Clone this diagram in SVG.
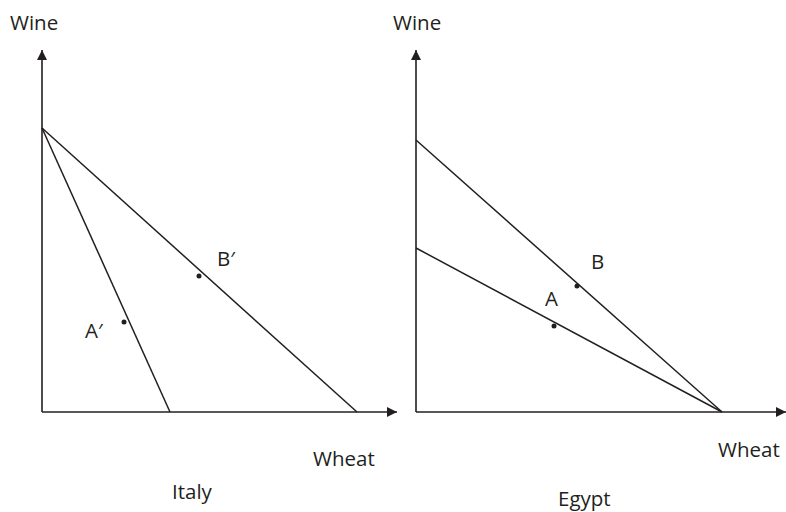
<svg xmlns="http://www.w3.org/2000/svg" width="786" height="512" viewBox="0 0 786 512">
<style>
.ax{stroke:#231f20;stroke-width:1.6;fill:none}
.ln{stroke:#231f20;stroke-width:1.5;fill:none}
.t{font-family:"Open Sans","Liberation Sans",sans-serif;font-size:20.5px;fill:#231f20}
.dot{fill:#231f20}
</style>
<defs>
<marker id="arr" markerWidth="10" markerHeight="10" refX="10" refY="5" orient="auto" markerUnits="userSpaceOnUse">
<path d="M0,0 L10,5 L0,10 Z" fill="#231f20"/>
</marker>
</defs>
<g id="connectors">
<path class="ax" d="M42,412 L42,50" marker-end="url(#arr)"/>
<path class="ax" d="M42,412 L397,412" marker-end="url(#arr)"/>
<path class="ln" d="M42,128 L170,412"/>
<path class="ln" d="M42,128 L357,412"/>
<path class="ax" d="M416,412 L416,50" marker-end="url(#arr)"/>
<path class="ax" d="M416,412 L786,412" marker-end="url(#arr)"/>
<path class="ln" d="M416,140 L722,412"/>
<path class="ln" d="M416,248 L722,412"/>
</g>
<g id="italy">
<text class="t" x="10" y="30">Wine</text>
<text class="t" x="313" y="466">Wheat</text>
<text class="t" x="172" y="499">Italy</text>
<circle class="dot" cx="199" cy="276" r="2.5"/>
<text class="t" x="217" y="266">B′</text>
<circle class="dot" cx="124" cy="322" r="2.5"/>
<text class="t" x="85" y="338">A′</text>
</g>
<g id="egypt">
<text class="t" x="393" y="30">Wine</text>
<text class="t" x="718" y="457">Wheat</text>
<text class="t" x="558" y="506">Egypt</text>
<circle class="dot" cx="577" cy="286" r="2.5"/>
<text class="t" x="591" y="269">B</text>
<circle class="dot" cx="554" cy="326" r="2.5"/>
<text class="t" x="545" y="306">A</text>
</g>
</svg>
